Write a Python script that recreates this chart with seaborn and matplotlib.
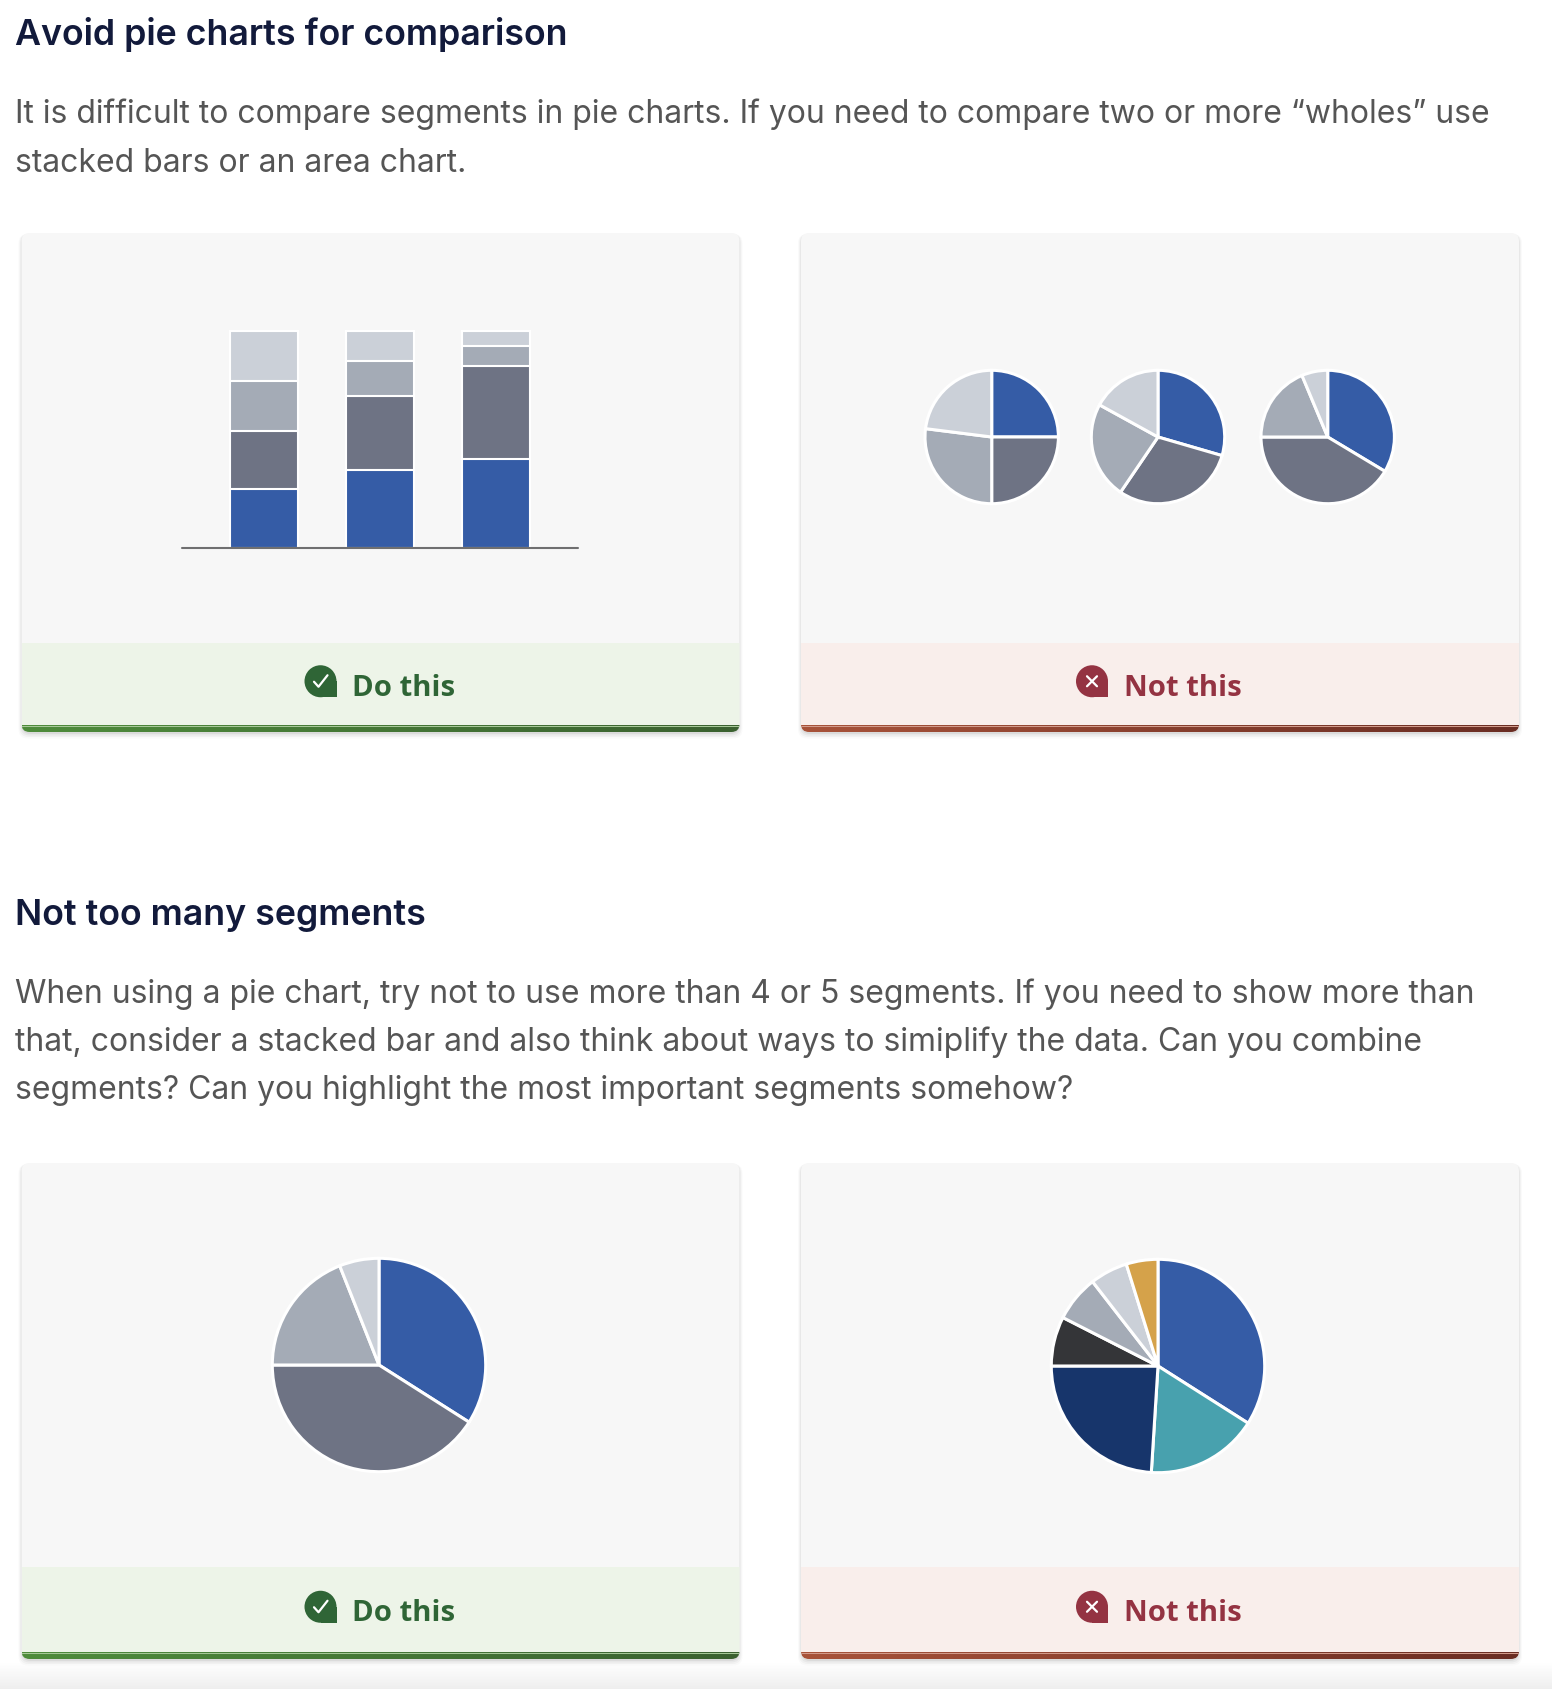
import numpy as np
import pandas as pd
import matplotlib
matplotlib.use("Agg")
import matplotlib.pyplot as plt
from matplotlib.patches import FancyBboxPatch, Rectangle, Circle
import seaborn as sns

sns.set_theme(style="white")
plt.rcParams['font.family'] = ['Inter', 'DejaVu Sans']

W, H = 1552, 1690

# ---- data ----
bar_cats = ["A", "B", "C"]
bar_blue = [27, 36, 41]
bar_dark = [27, 34, 43]
bar_mid = [23, 16, 9]
bar_light = [23, 14, 7]

pie_cmp_1 = [25, 25, 27, 23]
pie_cmp_2 = [29.5, 30, 23.5, 17]
pie_cmp_3 = [33.6, 41.4, 18.7, 6.3]
pie_few = [34, 41, 19, 6]
pie_many = [34, 17, 24, 7.5, 7, 5.7, 4.8]

title_1 = "Avoid pie charts for comparison"
text_1 = ["It is difficult to compare segments in pie charts. If you need to compare two or more \u201cwholes\u201d use",
          "stacked bars or an area chart."]
title_2 = "Not too many segments"
text_2 = ["When using a pie chart, try not to use more than 4 or 5 segments. If you need to show more than",
          "that, consider a stacked bar and also think about ways to simiplify the data. Can you combine",
          "segments? Can you highlight the most important segments somehow?"]
good_label = "Do this"
bad_label = "Not this"

# colours
BLUE, DARK, MID, LIGHT = "#355ca6", "#6e7384", "#a4abb6", "#cbd0d8"
TEAL, NAVY, BLACK, GOLD = "#48a1ae", "#17356b", "#343538", "#d5a24a"
four_cols = [BLUE, DARK, MID, LIGHT]
many_cols = [BLUE, TEAL, NAVY, BLACK, MID, LIGHT, GOLD]

fig = plt.figure(figsize=(W / 100, H / 100), dpi=100)
fig.patch.set_facecolor("white")
bg = fig.add_axes([0, 0, 1, 1])
bg.set_xlim(0, W)
bg.set_ylim(H, 0)
bg.set_axis_off()
renderer = fig.canvas.get_renderer()


def px_axes(x, y, w, h):
    a = fig.add_axes([x / W, 1 - (y + h) / H, w / W, h / H])
    a.set_facecolor("none")
    return a


def hgrad(c0, c1, n=200):
    c0 = np.array(matplotlib.colors.to_rgb(c0))
    c1 = np.array(matplotlib.colors.to_rgb(c1))
    t = np.linspace(0, 1, n)[None, :, None]
    return c0 + (c1 - c0) * t


def card(x0, x1, y0, y1, foot_top, good):
    w, h = x1 - x0, y1 - y0
    # soft shadow
    for i, a in enumerate([0.05, 0.04, 0.03, 0.02]):
        s = FancyBboxPatch((x0 - i, y0 + 1), w + 2 * i, h + 1 + 1.5 * i,
                           boxstyle="round,pad=0,rounding_size=9",
                           fc="#000000", ec="none", alpha=a, zorder=1)
        bg.add_patch(s)
    body = FancyBboxPatch((x0, y0), w, h, boxstyle="round,pad=0,rounding_size=8",
                          fc="#f7f7f7", ec="none", zorder=2)
    bg.add_patch(body)
    bar_top = y1 - 6.5
    foot = Rectangle((x0, foot_top), w, bar_top - foot_top,
                     fc="#edf4e8" if good else "#f9eeeb", ec="none", zorder=3)
    bg.add_patch(foot)
    foot.set_clip_path(body)
    g = hgrad("#4f8c3c", "#3b6130") if good else hgrad("#a8533a", "#6a2d23")
    im = bg.imshow(g, extent=(x0, x1, y1, bar_top), aspect="auto", zorder=4,
                   interpolation="bilinear")
    im.set_clip_path(body)
    edge = Rectangle((x0, bar_top), w, 1.2, fc="#a6c897" if good else "#d29a8a",
                     ec="none", zorder=5)
    bg.add_patch(edge)
    edge.set_clip_path(body)

    cx = (x0 + x1) / 2
    cy = (foot_top + bar_top) / 2 - 3
    col = "#2f6536" if good else "#943342"
    label = good_label if good else bad_label
    ix = cx - 60 if good else cx - 68
    bg.add_patch(Circle((ix, cy), 16, fc=col, ec="none", zorder=6))
    bg.add_patch(Rectangle((ix, cy), 16, 16, fc=col, ec="none", zorder=6))
    if good:
        bg.plot([ix - 6.5, ix - 2, ix + 7], [cy + 0.5, cy + 5.5, cy - 6],
                color="white", lw=1.6, zorder=7, solid_capstyle="round")
    else:
        bg.plot([ix - 5, ix + 5], [cy - 5, cy + 5], color="white", lw=1.6, zorder=7)
        bg.plot([ix - 5, ix + 5], [cy + 5, cy - 5], color="white", lw=1.6, zorder=7)
    t = bg.text(ix + 32, cy + 13.5, label, color=col, fontsize=21, fontweight="bold",
                family=["Open Sans", "Noto Sans", "DejaVu Sans"], ha="left",
                va="baseline", zorder=7)
    return t


def fit(t, target):
    wd = t.get_window_extent(renderer).width
    t.set_fontsize(t.get_fontsize() * target / wd)
    return t.get_fontsize()


# ---- page text ----
tt = bg.text(15, 45, title_1, fontsize=24, fontweight="semibold", color="#121a3b",
             ha="left", va="baseline")
tsize = fit(bg.text(15, 925, title_2, fontsize=24, fontweight="semibold",
                    color="#121a3b", ha="left", va="baseline"), 412)
tt.set_fontsize(tsize)

p_ref = bg.text(15, 1003, text_2[0], fontsize=22, color="#555555", ha="left", va="baseline")
psize = fit(p_ref, 1460)
for i, line in enumerate(text_1):
    bg.text(15, 122.5 + 49 * i, line, fontsize=psize, color="#555555", ha="left", va="baseline")
for i, line in enumerate(text_2[1:]):
    bg.text(15, 1051 + 48.5 * i, line, fontsize=psize, color="#555555", ha="left", va="baseline")

# ---- cards ----
labels = []
labels.append(card(21.5, 739.5, 234, 733, 644, True))
labels.append(card(801, 1519, 234, 733, 644, False))
labels.append(card(21.5, 739.5, 1164, 1660, 1568, True))
labels.append(card(801, 1519, 1164, 1660, 1568, False))
fsize = fit(labels[0], 103)
for t in labels[1:]:
    t.set_fontsize(fsize)

# bottom page fade
fade = np.linspace(1, 0.935, 50)[:, None, None] * np.ones((1, 2, 3))
bg.imshow(fade, extent=(0, W, H, 1664), aspect="auto", zorder=0, interpolation="bilinear")
bg.set_xlim(0, W)
bg.set_ylim(H, 0)

# ---- stacked bars ----
df = pd.DataFrame({"cat": bar_cats, "blue": bar_blue, "dark": bar_dark,
                   "mid": bar_mid, "light": bar_light})
df["c1"] = df["blue"]
df["c2"] = df["c1"] + df["dark"]
df["c3"] = df["c2"] + df["mid"]
df["c4"] = df["c3"] + df["light"]

axb = px_axes(182, 332, 396, 216.7)
for col, c in zip(["c4", "c3", "c2", "c1"], [LIGHT, MID, DARK, BLUE]):
    sns.barplot(data=df, x="cat", y=col, color=c, saturation=1, width=0.586,
                edgecolor="white", linewidth=1.5, ax=axb)
for p in axb.patches:
    p.set_clip_on(False)
axb.set_xlim(-0.707, 2.703)
axb.set_ylim(0, 100)
axb.set_axis_off()
axb.axhline(0, color="#6f6f70", lw=1.5, zorder=10, clip_on=False)


# ---- pies ----
def pie_at(cx, cy, r, vals, cols):
    a = px_axes(cx - r, cy - r, 2 * r, 2 * r)
    a.pie(vals, colors=cols, startangle=90, counterclock=False,
          wedgeprops=dict(edgecolor="white", linewidth=2.2))
    a.set_xlim(-1, 1)
    a.set_ylim(-1, 1)
    a.set_aspect("equal")
    for w_ in a.patches:
        w_.set_clip_on(False)
    a.set_axis_off()


pie_at(991.7, 438, 66.7, pie_cmp_1, four_cols)
pie_at(1158, 438, 66.7, pie_cmp_2, four_cols)
pie_at(1327.7, 438, 66.7, pie_cmp_3, four_cols)
pie_at(379, 1366, 106.7, pie_few, four_cols)
pie_at(1158, 1367, 106.7, pie_many, many_cols)

fig.savefig("out.png", dpi=100, facecolor="white")
